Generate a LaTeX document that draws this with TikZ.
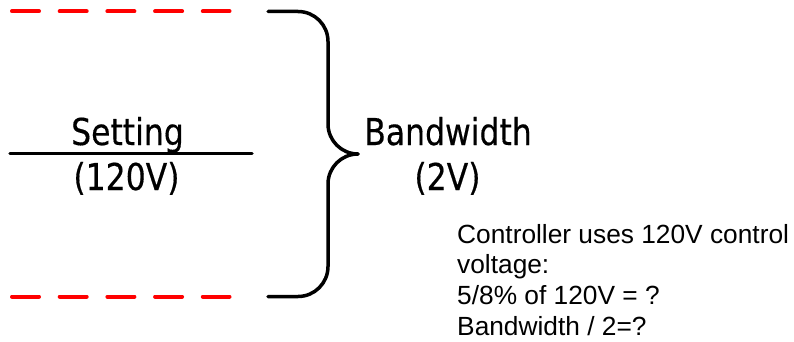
\documentclass[tikz,border=0pt]{standalone}
\usepackage{fontspec}
\newfontfamily\tahfont[FakeStretch=0.85,FakeBold=0.4]{DejaVu Sans}
\newfontfamily\arifont{Liberation Sans}
\begin{document}
\begin{tikzpicture}[x=1pt,y=1pt,
  bigtext/.style={inner sep=0pt, anchor=base, font=\tahfont\fontsize{37}{44}\selectfont},
  smalltext/.style={inner sep=0pt, anchor=base west, font=\arifont\fontsize{26.3}{30}\selectfont},
  reddash/.style={draw=red, line width=4pt, line cap=round, dash pattern=on 27pt off 20.7pt},
  blackline/.style={draw=black, line width=3.5pt, line cap=round},
  bracepart/.style={blackline, rounded corners=30pt}]
\useasboundingbox (0,0) rectangle (794,341);
% coordinates
\coordinate (dt1) at (12,329.7);
\coordinate (dt2) at (229.5,329.7);
\coordinate (db1) at (12,44.5);
\coordinate (db2) at (229.5,44.5);
\coordinate (sl1) at (10,187.5);
\coordinate (sl2) at (252,187.5);
\coordinate (bt) at (268,329.5);
\coordinate (btc) at (328,329.5);
\coordinate (bmid) at (328,187);
\coordinate (tip) at (358,187);
\coordinate (bbc) at (328,44.5);
\coordinate (bb) at (268,44.5);
% red dashed lines
\draw[reddash] (dt1) -- (dt2);
\draw[reddash] (db1) -- (db2);
% setting line
\draw[blackline] (sl1) -- (sl2);
% brace
\draw[bracepart] (bt) -- (btc) -- (bmid) -- (tip);
\draw[bracepart] (tip) -- (bmid) -- (bbc) -- (bb);
% texts
\node[bigtext] (setting) at (127.5,196) {Setting};
\node[bigtext] (v120) at (126.5,151) {(120V)};
\node[bigtext] (bw) at (448,196) {Bandwidth};
\node[bigtext] (v2) at (447.5,151) {(2V)};
\node[smalltext] (l1) at (457,98) {Controller uses 120V control};
\node[smalltext] (l2) at (457,67.5) {voltage:};
\node[smalltext] (l3) at (457,36.5) {5/8\% of 120V = ?};
\node[smalltext] (l4) at (457,6) {Bandwidth / 2=?};
\end{tikzpicture}
\end{document}
